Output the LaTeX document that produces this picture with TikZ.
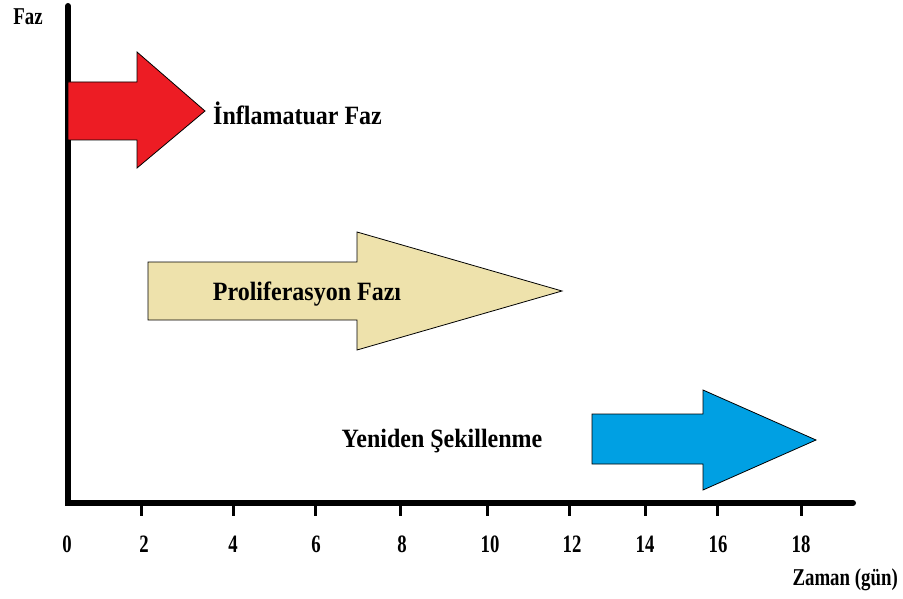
\documentclass[tikz,border=0pt]{standalone}
\usepackage{fontspec}
\setmainfont{Liberation Serif}
\usetikzlibrary{positioning}
\definecolor{inflred}{RGB}{237,28,36}
\definecolor{prolbeige}{RGB}{238,226,172}
\definecolor{remblue}{RGB}{0,160,227}
\tikzstyle{phase}=[draw=black,line width=0.8pt,line join=miter]
\tikzstyle{lbl}=[font=\fontsize{24}{28}\selectfont\bfseries,inner sep=0pt,yscale=1.1]
\tikzstyle{axlbl}=[font=\fontsize{23}{26}\selectfont\bfseries,inner sep=0pt,xscale=0.82,yscale=1.05]
\tikzstyle{numlbl}=[font=\fontsize{25}{28}\selectfont\bfseries,inner sep=0pt,xscale=0.75]

\begin{document}
\begin{tikzpicture}[x=1pt,y=-1pt]
    \useasboundingbox (0,0) rectangle (903,599);

    % axes
    \coordinate (top) at (68,6);
    \coordinate (origin) at (68,503);
    \coordinate (right) at (853,503);
    \draw[line width=6pt,line cap=round,line join=miter] (top) -- (origin) -- (right);
    \node[axlbl] (faz) at (28,17) {Faz};
    \node[axlbl,anchor=east] (zaman) at (898,580) {Zaman (gün)};

    \foreach \t/\x/\lx in {0/68/67,2/141/144,4/233/233,6/315/316,8/400/402,10/487/490,12/569/572,14/645/645,16/717/718,18/801/801}{
        \ifnum\t>0 \draw[line width=3pt] (\x,503) -- (\x,516); \fi
        \node[numlbl] (t\t) at (\lx,544) {\t};
    }

    % phases
    \draw[phase,fill=inflred] (68,82) -- (137,82) -- (137,52) -- (205,111) -- (137,168) -- (137,140) -- (68,140) -- cycle;
    \node[lbl,anchor=west] (infl) at (213,113) {İnflamatuar Faz};

    \draw[phase,fill=prolbeige] (148,262) -- (357,262) -- (357,232) -- (562,291) -- (357,350) -- (357,320) -- (148,320) -- cycle;
    \node[lbl] (prol) at (307,294) {Proliferasyon Fazı};

    \draw[phase,fill=remblue] (592,414) -- (703,414) -- (703,390) -- (816,440) -- (703,490) -- (703,464) -- (592,464) -- cycle;
    \node[lbl] (rem) at (442,441) {Yeniden Şekillenme};
\end{tikzpicture}
\end{document}
